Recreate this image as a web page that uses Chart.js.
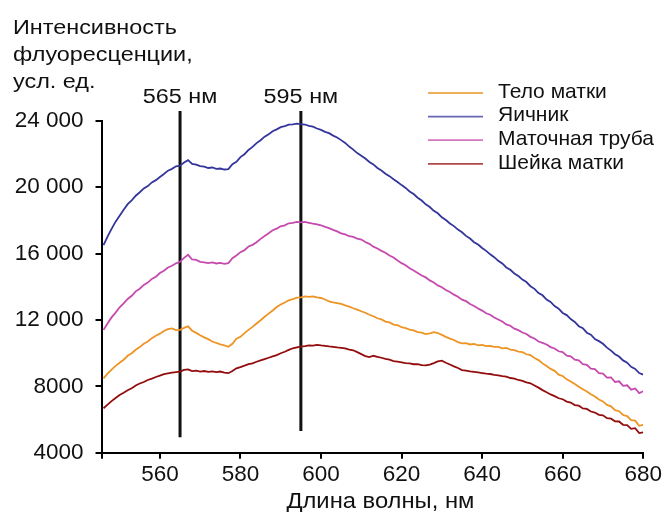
<!DOCTYPE html>
<html>
<head>
<meta charset="utf-8">
<script src="https://cdn.jsdelivr.net/npm/chart.js@4.4.1/dist/chart.umd.min.js"></script>
<style>
  html, body { margin: 0; padding: 0; background: #fff; }
  canvas { display: block; }
</style>
</head>
<body>
<canvas id="spectra" width="665" height="512"></canvas>
<script>
// wavelength grid, 1 nm step
const wavelengths = []
for (let w = 546; w <= 680; w++) wavelengths.push(w)

const seriesNames = ["Тело матки", "Яичник", "Маточная труба", "Шейка матки"]
const seriesColors = ["#ee9424", "#34359c", "#c64aae", "#930c0e"]

// Тело матки
const uterusBody = [
  8480, 8760, 9010, 9230, 9420, 9600, 9840, 9990, 10200, 10360,
  10560, 10700, 10900, 11050, 11170, 11330, 11440, 11490, 11380, 11400,
  11520, 11610, 11350, 11220, 11080, 10950, 10840, 10700, 10610, 10530,
  10470, 10380, 10560, 10870, 10980, 11200, 11400, 11580, 11780, 11980,
  12190, 12380, 12570, 12780, 12930, 13050, 13180, 13250, 13340, 13360,
  13420, 13390, 13420, 13360, 13320, 13230, 13120, 13060, 13010, 12960,
  12870, 12800, 12700, 12620, 12520, 12430, 12310, 12220, 12100, 12030,
  11900, 11850, 11720, 11680, 11560, 11500, 11410, 11370, 11260, 11230,
  11140, 11190, 11260, 11210, 11100, 10980, 10870, 10790, 10660, 10590,
  10600, 10520, 10560, 10470, 10500, 10420, 10440, 10380, 10370, 10280,
  10310, 10210, 10180, 10090, 10060, 9930, 9880, 9700, 9580, 9380,
  9220, 9050, 8930, 8700, 8620, 8420, 8290, 8140, 7980, 7820,
  7690, 7520, 7390, 7200, 7090, 6880, 6790, 6560, 6500, 6270,
  6210, 5960, 5930, 5620, 5680
]

// Яичник
const ovary = [
  16500, 17020, 17480, 17920, 18280, 18640, 18970, 19200, 19480, 19690,
  19920, 20060, 20280, 20420, 20610, 20790, 20990, 21100, 21250, 21290,
  21480, 21620, 21400, 21350, 21260, 21230, 21150, 21180, 21100, 21120,
  21060, 21080, 21380, 21520, 21810, 21980, 22240, 22420, 22650, 22820,
  23040, 23190, 23370, 23480, 23610, 23670, 23760, 23780, 23820, 23790,
  23770, 23690, 23640, 23530, 23450, 23330, 23250, 23100, 22990, 22830,
  22660, 22440, 22260, 22050, 21890, 21720, 21510, 21370, 21150, 21000,
  20810, 20660, 20470, 20310, 20120, 19950, 19740, 19580, 19360, 19190,
  18960, 18800, 18570, 18420, 18180, 18020, 17810, 17650, 17440, 17280,
  17060, 16900, 16680, 16540, 16330, 16160, 15950, 15780, 15560, 15400,
  15160, 15020, 14800, 14640, 14430, 14280, 14030, 13870, 13620, 13480,
  13220, 13080, 12830, 12680, 12420, 12290, 12050, 11880, 11620, 11500,
  11230, 11110, 10850, 10720, 10560, 10330, 10150, 9930, 9790, 9560,
  9420, 9170, 9050, 8800, 8700
]

// Маточная труба
const fallopianTube = [
  11400, 11780, 12150, 12440, 12760, 12990, 13260, 13450, 13720, 13880,
  14110, 14250, 14470, 14600, 14820, 14960, 15160, 15260, 15410, 15500,
  15740, 15920, 15640, 15610, 15500, 15470, 15420, 15460, 15400, 15440,
  15380, 15420, 15720, 15880, 16080, 16200, 16420, 16520, 16680, 16880,
  17060, 17220, 17400, 17500, 17640, 17700, 17820, 17850, 17900, 17880,
  17900, 17850, 17800, 17760, 17700, 17600, 17530, 17420, 17330, 17210,
  17150, 17040, 17000, 16900, 16840, 16690, 16580, 16410, 16300, 16160,
  16050, 15880, 15760, 15580, 15420, 15290, 15110, 14980, 14830, 14670,
  14560, 14380, 14250, 14080, 13970, 13800, 13680, 13520, 13390, 13220,
  13130, 12960, 12840, 12690, 12560, 12400, 12310, 12140, 12020, 11900,
  11730, 11650, 11470, 11380, 11240, 11150, 10980, 10880, 10700, 10620,
  10520, 10360, 10280, 10110, 10060, 9850, 9800, 9600, 9560, 9340,
  9290, 9060, 9030, 8790, 8760, 8520, 8530, 8260, 8300, 8030,
  8060, 7800, 7870, 7590, 7700
]

// Шейка матки
const cervix = [
  6680, 6900, 7110, 7300, 7480, 7610, 7760, 7880, 8050, 8170,
  8260, 8380, 8460, 8560, 8640, 8730, 8780, 8830, 8860, 8880,
  8990, 9020, 8920, 8940, 8880, 8920, 8870, 8900, 8850, 8890,
  8820, 8790, 8920, 9080, 9160, 9240, 9330, 9380, 9480, 9560,
  9640, 9720, 9800, 9880, 9990, 10080, 10190, 10290, 10340, 10390,
  10420, 10470, 10450, 10500, 10460, 10430, 10400, 10380, 10340, 10320,
  10280, 10210, 10170, 10060, 9940, 9820, 9760, 9840, 9780, 9720,
  9650, 9610, 9520, 9480, 9440, 9400, 9380, 9330, 9340, 9270,
  9260, 9310, 9400, 9500, 9540, 9420, 9310, 9200, 9100, 8980,
  8950, 8900, 8870, 8840, 8800, 8760, 8740, 8690, 8660, 8610,
  8580, 8500, 8460, 8380, 8320, 8240, 8180, 8050, 7920, 7770,
  7640, 7510, 7410, 7280, 7220, 7080, 7020, 6870, 6830, 6670,
  6640, 6480, 6420, 6280, 6250, 6080, 6050, 5890, 5880, 5680,
  5660, 5440, 5480, 5180, 5230
]

// marker lines: wavelength, top and bottom of the line
const markerWavelengths = [565, 595]
const markerTops = [24580, 24580]
const markerBottoms = [4930, 5300]

const xMin = 545.5
const xMax = 680
const xTicks = [560, 580, 600, 620, 640, 660, 680]
const yTicks = [4000, 8000, 12000, 16000, 20000, 24000]
const yTickLabels = ["4000", "8000", "12 000", "16 000", "20 000", "24 000"]

const FONT = "'Liberation Sans', Arial, sans-serif"

const allSeries = [uterusBody, ovary, fallopianTube, cervix]
const datasets = allSeries.map((vals, i) => ({
    label: seriesNames[i],
    data: wavelengths.map((w, j) => ({x: w, y: vals[j]})),
    borderColor: seriesColors[i],
    borderWidth: 1.8,
    pointRadius: 0,
    tension: 0,
    isSpectrum: true
}))
markerWavelengths.forEach((w, i) => {
    datasets.push({
        label: w + " нм",
        data: [{x: w, y: markerTops[i]}, {x: w, y: markerBottoms[i]}],
        borderColor: "#111",
        borderWidth: 3,
        pointRadius: 0,
        clip: false,
        isSpectrum: false
    })
})

// text drawn a bit wider than the font's own proportions
function wideText(ctx, text, x, y, stretch) {
    ctx.save()
    ctx.translate(x, y)
    ctx.scale(stretch, 1)
    ctx.fillText(text, 0, 0)
    ctx.restore()
}

// text around the plot: axis caption, marker captions, legend
const annotations = {
    id: "annotations",
    afterDraw(chart) {
        const {ctx, chartArea, scales: {x}} = chart
        ctx.save()
        ctx.fillStyle = "#111"
        ctx.textAlign = "left"
        ctx.textBaseline = "alphabetic"
        ctx.font = "19.5px " + FONT
        wideText(ctx, "Интенсивность", 13, 34, 1.2)
        wideText(ctx, "флуоресценции,", 13, 61, 1.2)
        wideText(ctx, "усл. ед.", 13, 88, 1.2)

        ctx.textAlign = "center"
        markerWavelengths.forEach(w => {
            wideText(ctx, w + " нм", x.getPixelForValue(w), 103, 1.2)
        })

        ctx.font = "22px " + FONT
        wideText(ctx, "Длина волны, нм", (chartArea.left + chartArea.right) / 2 + 8, 508, 1.08)

        // legend
        ctx.font = "21px " + FONT
        ctx.textAlign = "left"
        ctx.textBaseline = "middle"
        chart.data.datasets.filter(d => d.isSpectrum).forEach((d, i) => {
            const ly = 93 + i * 23.6
            ctx.strokeStyle = d.borderColor
            ctx.globalAlpha = 0.75
            ctx.lineWidth = 1.8
            ctx.beginPath()
            ctx.moveTo(428, ly)
            ctx.lineTo(483, ly)
            ctx.stroke()
            ctx.globalAlpha = 1
            ctx.fillText(d.label, 498, ly - 1)
        })
        ctx.restore()
    }
}

new Chart(document.getElementById("spectra"), {
    type: "line",
    data: {datasets},
    options: {
        responsive: false,
        devicePixelRatio: 1,
        animation: false,
        layout: {padding: {top: 120.7, right: 21.7, left: 0, bottom: 0}},
        plugins: {legend: {display: false}, tooltip: {enabled: false}},
        scales: {
            x: {
                type: "linear",
                min: xMin,
                max: xMax,
                afterBuildTicks(scale) {
                    scale.ticks = [{value: xMin}].concat(xTicks.map(v => ({value: v})))
                },
                afterFit(scale) { scale.height = 59.3 },
                border: {display: true, color: "#000", width: 2},
                grid: {drawOnChartArea: false, drawTicks: true, tickLength: 6, color: "#000", lineWidth: 2},
                ticks: {
                    autoSkip: false,
                    maxRotation: 0,
                    padding: 3,
                    color: "#111",
                    font: {family: FONT, size: 22.5},
                    callback: v => v === xMin ? "" : String(v)
                }
            },
            y: {
                min: 4000,
                max: 24000,
                afterBuildTicks(scale) {
                    scale.ticks = yTicks.map(v => ({value: v}))
                },
                afterFit(scale) { scale.width = 101.5 },
                border: {display: true, color: "#000", width: 2},
                grid: {drawOnChartArea: false, drawTicks: true, tickLength: 6, color: "#000", lineWidth: 2},
                ticks: {
                    padding: 12,
                    color: "#111",
                    font: {family: FONT, size: 22.5},
                    callback: v => yTickLabels[yTicks.indexOf(v)]
                }
            }
        }
    },
    plugins: [annotations]
})
</script>
</body>
</html>
